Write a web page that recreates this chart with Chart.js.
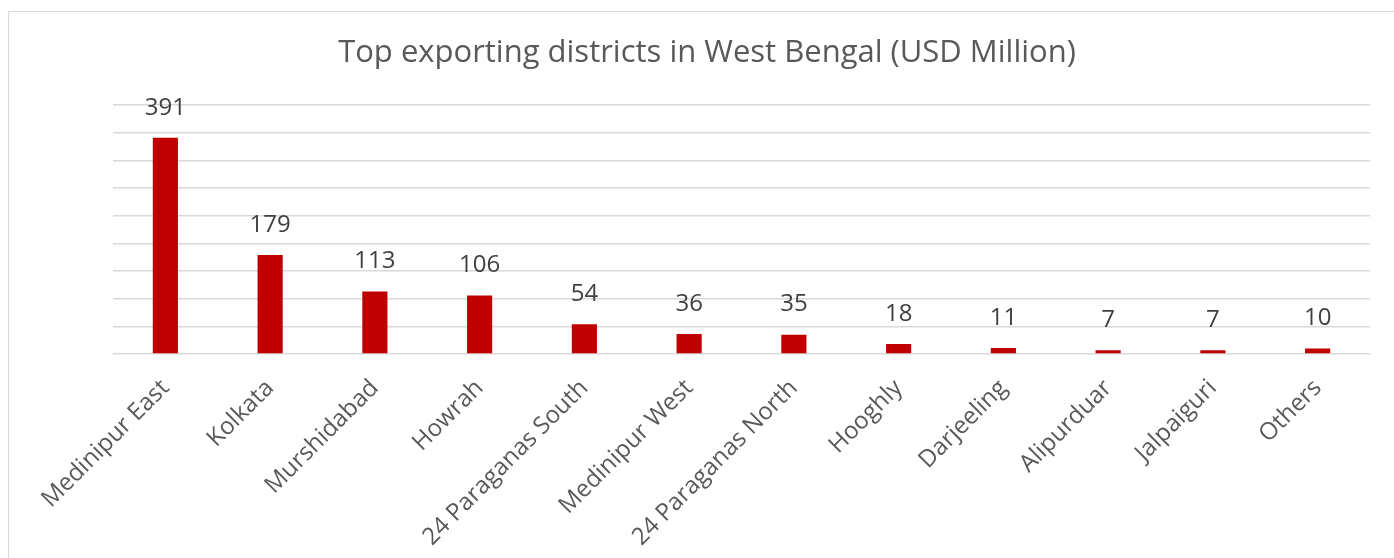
<!DOCTYPE html>
<html>
<head>
<meta charset="utf-8">
<script src="https://cdn.jsdelivr.net/npm/chart.js@4"></script>
<style>
    html, body { margin: 0; padding: 0; background: #fff; overflow: hidden; }
    #wrap {
        position: absolute; left: 8px; top: 11px;
        width: 1398px; height: 560px;
        border: 1px solid #d9d9d9; box-sizing: border-box;
    }
</style>
</head>
<body>
<div id="wrap"><canvas id="grafic"></canvas></div>
<script>
const districte = ['Medinipur East', 'Kolkata', 'Murshidabad', 'Howrah', '24 Paraganas South',
    'Medinipur West', '24 Paraganas North', 'Hooghly', 'Darjeeling', 'Alipurduar', 'Jalpaiguri', 'Others'];
const exporturi = [391, 179, 113, 106, 54, 36, 35, 18, 11, 7, 7, 10];
const titlu = 'Top exporting districts in West Bengal (USD Million)';

const fontText = "'Open Sans', 'Noto Sans', sans-serif";

// etichete valori deasupra barelor
const eticheteValori = {
    id: 'eticheteValori',
    afterDatasetsDraw: (chart) => {
        const ctx = chart.ctx;
        const meta = chart.getDatasetMeta(0);
        ctx.save();
        ctx.font = '24px ' + fontText;
        ctx.fillStyle = '#404040';
        ctx.textAlign = 'center';
        ctx.textBaseline = 'bottom';
        meta.data.forEach((bar, i) => {
            ctx.fillText(String(exporturi[i]), bar.x, bar.y - 18);
        });
        ctx.restore();
    }
};

const ctx = document.getElementById('grafic').getContext('2d');
new Chart(ctx, {
    type: 'bar',
    data: {
        labels: districte,
        datasets: [{
            data: exporturi,
            backgroundColor: '#c00000',
            borderWidth: 0,
            categoryPercentage: 1,
            barPercentage: 0.24
        }]
    },
    options: {
        responsive: true,
        maintainAspectRatio: false,
        animation: false,
        plugins: {
            legend: { display: false },
            tooltip: { enabled: false },
            title: {
                display: true,
                text: titlu,
                color: '#595959',
                font: { family: fontText, size: 31, weight: 'normal' },
                padding: { top: 23, bottom: 33 }
            }
        },
        scales: {
            x: {
                grid: { display: false },
                border: { display: false },
                ticks: {
                    color: '#595959',
                    font: { family: fontText, size: 24 },
                    minRotation: 45,
                    maxRotation: 45,
                    autoSkip: false,
                    padding: 12
                },
                afterFit: (scale) => { scale.height = 216; }
            },
            y: {
                min: 0,
                max: 450,
                ticks: { display: false, stepSize: 50 },
                grid: { color: '#d9d9d9', lineWidth: 1.5, drawTicks: false },
                border: { display: false },
                afterFit: (scale) => { scale.width = 104; }
            },
            // axa goala in dreapta, doar pentru spatiu
            dreapta: {
                position: 'right',
                min: 0,
                max: 450,
                ticks: { display: false },
                grid: { display: false },
                border: { display: false },
                afterFit: (scale) => { scale.width = 35; }
            }
        }
    },
    plugins: [eticheteValori]
});
</script>
</body>
</html>
